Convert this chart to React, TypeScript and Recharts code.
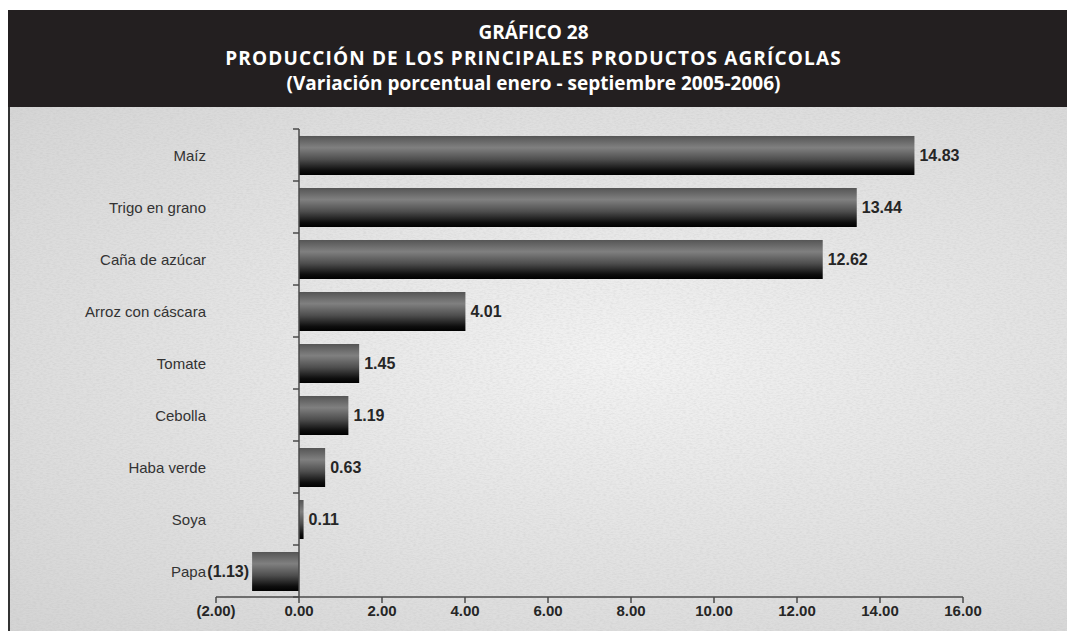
import { BarChart, Bar, XAxis, YAxis, ReferenceLine, LabelList } from 'recharts';

const TITLE_LINES = [
  'GRÁFICO 28',
  'PRODUCCIÓN DE LOS PRINCIPALES PRODUCTOS AGRÍCOLAS',
  '(Variación porcentual enero - septiembre 2005-2006)',
];
const TITLE_SPACING = [0, 1.15, 0];

const CATEGORIES = [
  'Maíz',
  'Trigo en grano',
  'Caña de azúcar',
  'Arroz con cáscara',
  'Tomate',
  'Cebolla',
  'Haba verde',
  'Soya',
  'Papa',
];

const VALUES = [14.83, 13.44, 12.62, 4.01, 1.45, 1.19, 0.63, 0.11, -1.13];

const X_TICKS = [-2, 0, 2, 4, 6, 8, 10, 12, 14, 16];
const X_DOMAIN: [number, number] = [-2, 16];

const data = CATEGORIES.map((name, i) => ({ name, value: VALUES[i] }));

// layout
const CHART_W = 1059;
const CHART_H = 524;
const Y_AXIS_W = 100;
const MARGIN = { top: 22, right: 104, bottom: 4, left: 108 };
const X_AXIS_H = 30;
const PLOT_LEFT = MARGIN.left + Y_AXIS_W;
const PLOT_W = CHART_W - PLOT_LEFT - MARGIN.right;
const PLOT_H = CHART_H - MARGIN.top - MARGIN.bottom - X_AXIS_H;
const BAND = PLOT_H / CATEGORIES.length;
const ZERO_X = PLOT_LEFT + ((0 - X_DOMAIN[0]) / (X_DOMAIN[1] - X_DOMAIN[0])) * PLOT_W;
const AXIS_COLOR = '#4a4a4a';

const fmt = (v: number) => (v < 0 ? `(${Math.abs(v).toFixed(2)})` : v.toFixed(2));

const CategoryTick = (props: any) => {
  const { y, payload, index } = props;
  return (
    <g>
      <text
        x={PLOT_LEFT - 10}
        y={y}
        textAnchor="end"
        dominantBaseline="central"
        fontFamily="'Liberation Sans', Arial, sans-serif"
        fontSize={15}
        fill="#333"
      >
        {payload.value}
      </text>
      <line x1={ZERO_X - 6} x2={ZERO_X} y1={y - BAND / 2} y2={y - BAND / 2} stroke={AXIS_COLOR} strokeWidth={1.5} />
      {index === CATEGORIES.length - 1 && (
        <line x1={ZERO_X - 6} x2={ZERO_X} y1={y + BAND / 2} y2={y + BAND / 2} stroke={AXIS_COLOR} strokeWidth={1.5} />
      )}
    </g>
  );
};

const ValueLabel = (props: any) => {
  const { x, y, width, height, value } = props;
  const left = Math.min(x, x + width);
  const right = Math.max(x, x + width);
  const neg = value < 0;
  return (
    <text
      x={neg ? left - 3 : right + 5}
      y={y + height / 2}
      textAnchor={neg ? 'end' : 'start'}
      dominantBaseline="central"
      fontFamily="'Liberation Sans', Arial, sans-serif"
      fontSize={16}
      fontWeight="bold"
      fill="#262626"
    >
      {fmt(value)}
    </text>
  );
};

export default function App() {
  return (
    <div
      style={{
        position: 'absolute',
        left: 0,
        top: 0,
        width: 1067,
        height: 631,
        overflow: 'hidden',
        background: '#fff',
      }}
    >
      {/* title box */}
      <div
        style={{
          position: 'absolute',
          left: 8,
          top: 10,
          width: 1059,
          height: 97,
          background: '#231f20',
          color: '#fff',
          fontFamily: "'Open Sans', Lato, sans-serif",
          fontWeight: 'bold',
          fontSize: 19,
          textAlign: 'center',
          lineHeight: '25.5px',
          paddingTop: 10,
          paddingRight: 8,
          boxSizing: 'border-box',
        }}
      >
        {TITLE_LINES.map((t, i) => (
          <div key={t} style={{ letterSpacing: TITLE_SPACING[i] }}>{t}</div>
        ))}
      </div>
      {/* textured panel */}
      <div
        style={{
          position: 'absolute',
          left: 8,
          top: 107,
          width: 1059,
          height: 524,
          borderLeft: '2px solid #333',
          boxSizing: 'border-box',
          background: 'radial-gradient(ellipse at 58% 48%, #f3f3f3 0%, #e4e4e4 45%, #d4d4d4 100%)',
        }}
      >
        <svg width={1059} height={524} style={{ position: 'absolute', left: 0, top: 0 }}>
          <filter id="paper">
            <feTurbulence type="fractalNoise" baseFrequency="0.3 0.8" numOctaves={2} seed={3} />
            <feColorMatrix type="matrix" values="0 0 0 0 0.45  0 0 0 0 0.45  0 0 0 0 0.45  0 0 0 -1.2 0.75" />
          </filter>
          <rect width={1059} height={524} filter="url(#paper)" opacity={0.35} />
        </svg>
      </div>
      <div style={{ position: 'absolute', left: 8, top: 107 }}>
        <BarChart
          width={CHART_W}
          height={CHART_H}
          data={data}
          layout="vertical"
          margin={MARGIN}
          barSize={39}
        >
          <defs>
            <linearGradient id="barGrad" x1="0" y1="0" x2="0" y2="1">
              <stop offset="0%" stopColor="#555" />
              <stop offset="30%" stopColor="#808080" />
              <stop offset="60%" stopColor="#4e4e4e" />
              <stop offset="88%" stopColor="#0e0e0e" />
              <stop offset="100%" stopColor="#000" />
            </linearGradient>
          </defs>
          <XAxis
            type="number"
            domain={X_DOMAIN}
            ticks={X_TICKS}
            allowDataOverflow
            height={X_AXIS_H}
            tickFormatter={fmt}
            stroke={AXIS_COLOR}
            strokeWidth={1.5}
            tickSize={6}
            tickLine={{ stroke: AXIS_COLOR, strokeWidth: 1.5 }}
            tick={{ fill: '#262626', fontSize: 15, fontWeight: 'bold', fontFamily: "'Liberation Sans', Arial, sans-serif" }}
          />
          <YAxis
            type="category"
            dataKey="name"
            width={Y_AXIS_W}
            axisLine={false}
            tickLine={false}
            interval={0}
            tick={<CategoryTick />}
          />
          <ReferenceLine x={0} stroke={AXIS_COLOR} strokeWidth={1.5} />
          <Bar dataKey="value" fill="url(#barGrad)" isAnimationActive={false}>
            <LabelList dataKey="value" content={<ValueLabel />} />
          </Bar>
        </BarChart>
      </div>
    </div>
  );
}
